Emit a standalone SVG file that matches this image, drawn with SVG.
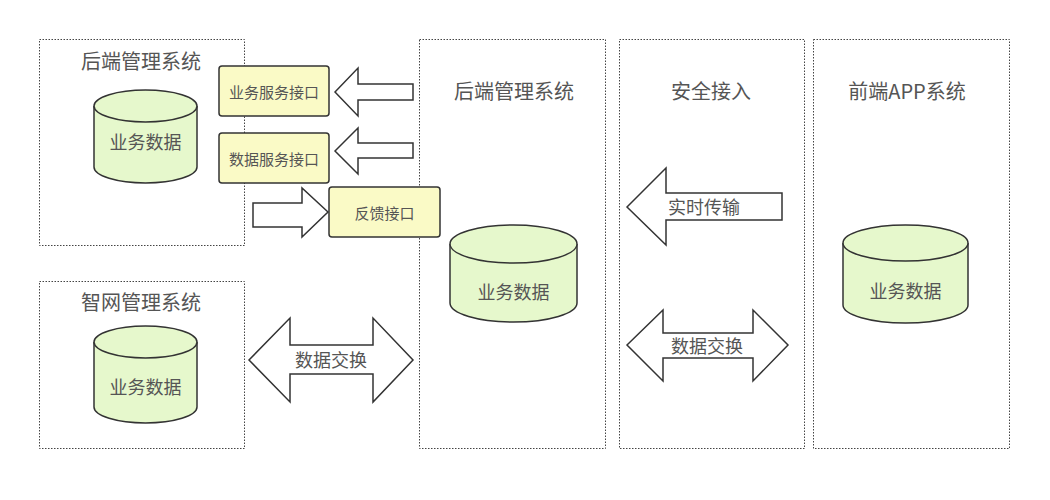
<svg xmlns="http://www.w3.org/2000/svg" width="1050" height="500" viewBox="0 0 1050 500">
<style>
.box{fill:none;stroke:#444;stroke-width:1;stroke-dasharray:1.5 1.5}
.cyl{fill:#e6f8cc;stroke:#333;stroke-width:1.5}
.if{fill:#fafac6;stroke:#333;stroke-width:1.5}
.arr{fill:#fff;stroke:#333;stroke-width:1.5;stroke-linejoin:miter}
text{font-family:"Noto Sans CJK SC","Liberation Sans",sans-serif;fill:#555;text-anchor:middle;dominant-baseline:central}
.t{font-size:20px}
.d{font-size:18px}
.s{font-size:15px}
</style>
<rect width="1050" height="500" fill="#fff"/>
<g id="backend-left">
<rect class="box" x="39.5" y="39.5" width="205" height="206"/>
<text class="t" x="141" y="60">后端管理系统</text>
<path class="cyl" d="M94,106 L94,167 A51.5,16 0 0 0 197,167 L197,106"/>
<ellipse class="cyl" cx="145.5" cy="106" rx="51.5" ry="16"/>
<text class="d" x="145.5" y="141">业务数据</text>
</g>
<g id="zhiwang">
<rect class="box" x="39.5" y="281.5" width="205" height="167"/>
<text class="t" x="141" y="301">智网管理系统</text>
<path class="cyl" d="M94,342 L94,407 A51.5,16 0 0 0 197,407 L197,342"/>
<ellipse class="cyl" cx="145.5" cy="342" rx="51.5" ry="16"/>
<text class="d" x="145.5" y="386">业务数据</text>
</g>
<g id="backend-mid">
<rect class="box" x="419.5" y="39.5" width="186" height="409"/>
<text class="t" x="514" y="90">后端管理系统</text>
<path class="cyl" d="M450,244 L450,303 A63.5,19 0 0 0 577,303 L577,244"/>
<ellipse class="cyl" cx="513.5" cy="244" rx="63.5" ry="19"/>
<text class="d" x="513.5" y="291">业务数据</text>
</g>
<g id="security">
<rect class="box" x="619.5" y="39.5" width="185" height="409"/>
<text class="t" x="711" y="90">安全接入</text>
</g>
<g id="frontend">
<rect class="box" x="813.5" y="39.5" width="196" height="409"/>
<text class="t" x="907" y="90">前端APP系统</text>
<path class="cyl" d="M843,243 L843,305 A62.5,18 0 0 0 968,305 L968,243"/>
<ellipse class="cyl" cx="905.5" cy="243" rx="62.5" ry="18"/>
<text class="d" x="905.5" y="290">业务数据</text>
</g>
<g id="if-biz">
<rect class="if" x="219" y="66" width="110" height="50" rx="3"/>
<text class="s" x="274" y="91">业务服务接口</text>
</g>
<g id="if-data">
<rect class="if" x="219" y="133" width="110" height="50" rx="3"/>
<text class="s" x="274" y="158">数据服务接口</text>
</g>
<g id="if-feedback">
<rect class="if" x="329" y="187" width="111" height="50" rx="3"/>
<text class="s" x="384.5" y="212">反馈接口</text>
</g>
<g id="connectors">
<path class="arr" d="M335,92 L358,68 L358,84 L413,84 L413,100 L358,100 L358,116 Z"/>
<path class="arr" d="M335,151 L358,128 L358,143 L413,143 L413,158 L358,158 L358,174 Z"/>
<path class="arr" d="M328,212 L302,188 L302,203 L253,203 L253,227 L302,227 L302,237 Z"/>
<path class="arr" d="M249,360 L290,318 L290,345 L373,345 L373,318 L413,360 L373,402 L373,374 L290,374 L290,402 Z"/>
<text class="d" x="331" y="359">数据交换</text>
<path class="arr" d="M627,207 L666,168 L666,193 L782,193 L782,220 L666,220 L666,245 Z"/>
<text class="d" x="704" y="206">实时传输</text>
<path class="arr" d="M627,345 L663,310 L663,333 L753,333 L753,310 L788,345 L753,381 L753,358 L663,358 L663,381 Z"/>
<text class="d" x="707" y="345">数据交换</text>
</g>
</svg>
